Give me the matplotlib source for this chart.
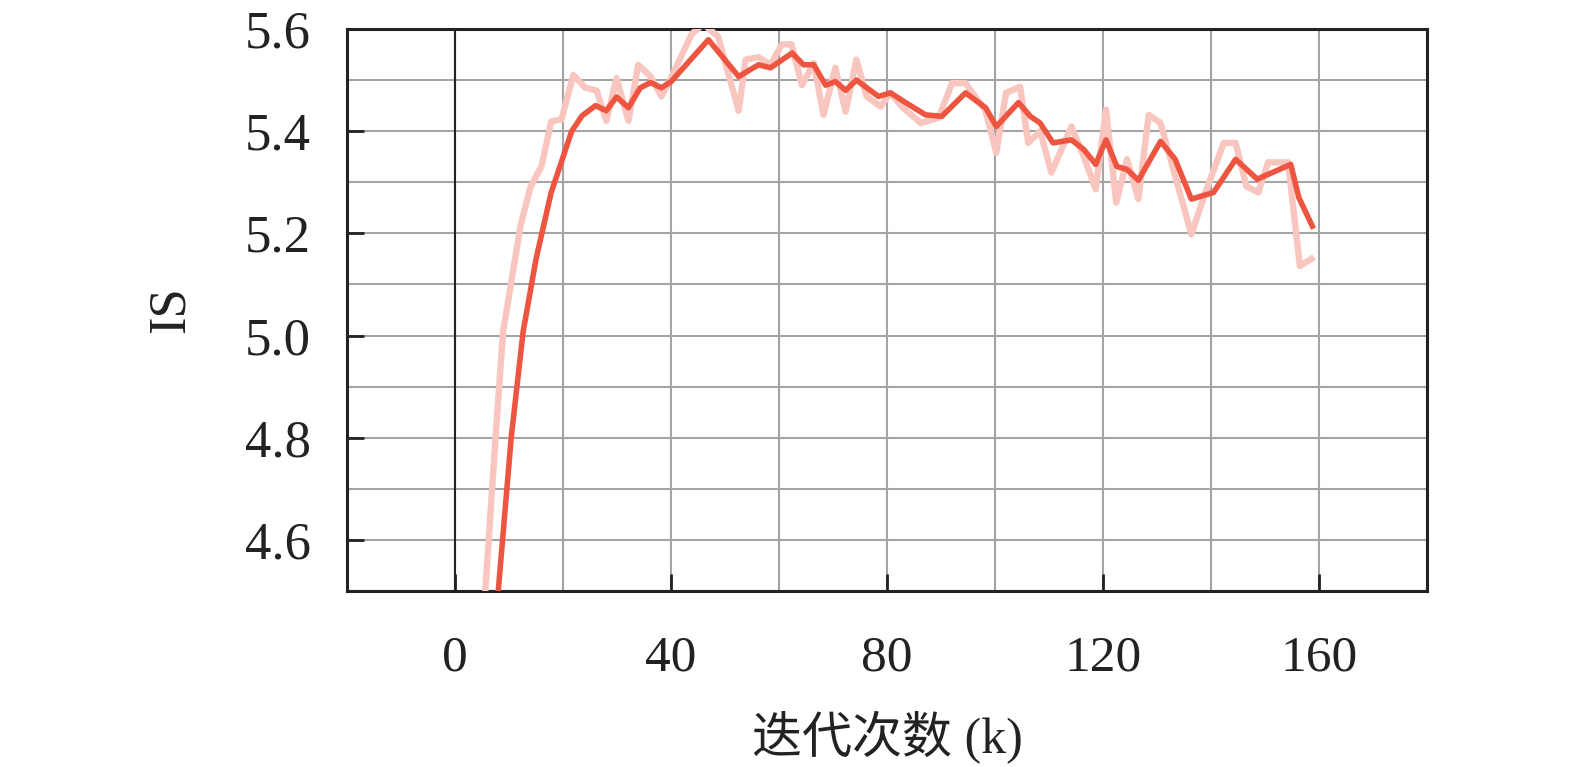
import matplotlib
matplotlib.use('Agg')
import matplotlib.pyplot as plt
from matplotlib.ticker import MultipleLocator

plt.rcParams['font.family'] = ['Liberation Serif', 'Noto Sans CJK SC']

# smoothed IS curve
iters = [6, 8.0, 10.4, 12.6, 15.0, 17.8, 21.6, 23.5, 26.0, 28.0, 29.9, 32.1, 34.3, 36.2, 38.2, 40.0,
         46.9, 52.5, 56.2, 58.4, 62.4, 64.5, 66.4, 68.6, 70.4, 72.3, 74.3, 78.4, 80.6, 83.4,
         87.1, 90.1, 94.5, 98.2, 100.2, 104.3, 106.5, 108.3, 110.7, 114.1, 116.4, 118.6, 120.5,
         122.5, 124.4, 126.5, 130.6, 133.3, 136.3, 140.4, 144.5, 148.5, 154.7, 156.2, 158.7]
is_smooth = [4.25, 4.50, 4.80, 5.007, 5.15, 5.28, 5.40, 5.43, 5.45, 5.44, 5.467, 5.446, 5.485, 5.495, 5.485, 5.497,
             5.579, 5.507, 5.53, 5.524, 5.553, 5.53, 5.53, 5.49, 5.497, 5.48, 5.50, 5.468, 5.475, 5.456,
             5.432, 5.429, 5.475, 5.446, 5.409, 5.456, 5.429, 5.416, 5.377, 5.383, 5.364, 5.335, 5.383,
             5.331, 5.325, 5.304, 5.38, 5.345, 5.267, 5.28, 5.345, 5.306, 5.335, 5.27, 5.214]

# raw IS curve
iters_raw = [4.0, 5.6, 7.5, 8.9, 12.1, 14.0, 16.0, 17.8, 19.7, 21.9, 24.1, 26.2, 28.0, 29.9, 32.1, 33.9,
             36.2, 38.2, 40.0, 43.8, 46.0, 48.7, 52.5, 53.8, 56.2, 58.4, 60.5, 62.3, 64.2, 66.4,
             68.2, 70.4, 72.3, 74.3, 76.2, 78.8, 80.6, 82.7, 86.2, 89.5, 92.0, 94.5, 98.2, 100.2,
             102.0, 104.6, 106.1, 108.3, 110.4, 114.1, 116.4, 118.6, 120.5, 122.4, 124.4, 126.5,
             128.4, 130.6, 136.3, 138.9, 142.3, 144.5, 146.5, 148.7, 150.5, 154.2, 156.4, 158.5]
is_raw = [4.25, 4.50, 4.80, 5.007, 5.214, 5.292, 5.331, 5.419, 5.423, 5.51, 5.485, 5.48, 5.42, 5.504, 5.42, 5.53,
          5.507, 5.468, 5.504, 5.59, 5.61, 5.585, 5.44, 5.54, 5.545, 5.53, 5.57, 5.57, 5.49, 5.533,
          5.432, 5.524, 5.438, 5.54, 5.468, 5.448, 5.475, 5.448, 5.416, 5.426, 5.494, 5.494, 5.44, 5.358,
          5.475, 5.487, 5.377, 5.40, 5.319, 5.409, 5.35, 5.286, 5.442, 5.26, 5.345, 5.267,
          5.432, 5.416, 5.198, 5.28, 5.377, 5.377, 5.292, 5.28, 5.339, 5.339, 5.136, 5.15]

xticks = [0, 40, 80, 120, 160]
yticks = [4.6, 4.8, 5.0, 5.2, 5.4, 5.6]

fig = plt.figure(figsize=(15.75, 7.67), dpi=100)
ax = fig.add_axes([0.2203, 0.2295, 0.6860, 0.7327])

ax.plot(iters_raw, is_raw, color='#f8c6bf', lw=4.6, solid_joinstyle='round', zorder=3)
ax.plot(iters, is_smooth, color='#ee5540', lw=4.0, solid_joinstyle='round', zorder=4)

ax.axvline(0, color='#222222', lw=1.5, zorder=2)

ax.set_xlim(-20, 180)
ax.set_ylim(4.5, 5.6)
ax.set_xticks(xticks)
ax.set_yticks(yticks)
ax.set_yticklabels(['%.1f' % v for v in yticks])
ax.xaxis.set_minor_locator(MultipleLocator(20))
ax.yaxis.set_minor_locator(MultipleLocator(0.1))
ax.grid(which='both', color='#a4a4a4', lw=1.5, zorder=1)
ax.set_axisbelow(True)

ax.tick_params(which='major', direction='in', length=12, width=2,
               colors='#222222', top=False, right=False)
ax.tick_params(which='minor', length=0)
ax.tick_params(axis='x', labelsize=37, pad=32)
ax.tick_params(axis='y', labelsize=38, pad=26)
for s in ax.spines.values():
    s.set_linewidth(2.2)
    s.set_color('#222222')

ax.set_xlabel('迭代次数 (k)', fontsize=36, labelpad=21, color='#222222')
ax.set_ylabel('IS', fontsize=38, labelpad=36, color='#222222')

fig.savefig('out.png', dpi=100)
